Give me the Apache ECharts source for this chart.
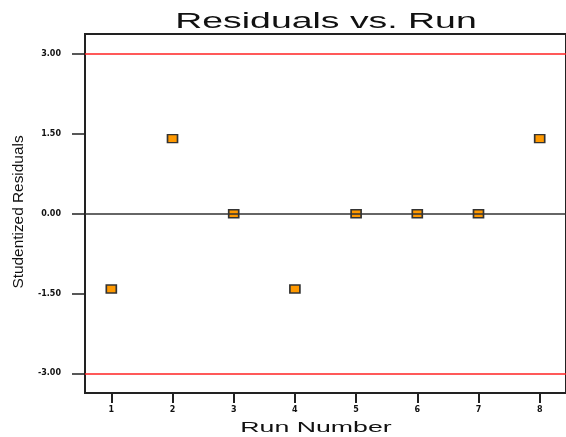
<!DOCTYPE html>
<html>
<head>
<meta charset="utf-8">
<script src="https://cdn.jsdelivr.net/npm/echarts@6/dist/echarts.min.js"></script>
<style>
  html, body { margin: 0; padding: 0; background: #fff; }
  #chart { width: 566px; height: 437px; }
</style>
</head>
<body>
<div id="chart"></div>
<script>
var runs = [1, 2, 3, 4, 5, 6, 7, 8];
var residuals = [-1.414, 1.414, 0, -1.414, 0, 0, 0, 1.414];
var yTicks = [-3, -1.5, 0, 1.5, 3];
var limits = [-3, 3];
var centerLine = 0;

var points = runs.map(function (r, i) {
  return [r, residuals[i]];
});

var chart = echarts.init(document.getElementById("chart"));
chart.setOption({
  backgroundColor: "#fff",
  animation: false,
  grid: {
    left: 85,
    top: 34,
    right: -3,
    bottom: 44,
    show: true,
    borderColor: "#222",
    borderWidth: 2
  },
  xAxis: {
    type: "value",
    min: 0.57,
    max: 8.43,
    axisLine: { show: true, onZero: false, lineStyle: { color: "#222", width: 2 } },
    axisTick: {
      show: true,
      customValues: runs,
      length: 10,
      lineStyle: { color: "#222", width: 2 }
    },
    axisLabel: {
      customValues: runs,
      margin: 13,
      fontSize: 8,
      fontWeight: "bold",
      fontFamily: "DejaVu Sans",
      color: "#111"
    },
    splitLine: { show: false }
  },
  yAxis: {
    type: "value",
    min: -3.37,
    max: 3.38,
    axisLine: { show: true, onZero: false, lineStyle: { color: "#222", width: 2 } },
    axisTick: {
      show: true,
      customValues: yTicks,
      inside: false,
      length: 13,
      lineStyle: { color: "#222", width: 1.5 }
    },
    axisLabel: {
      customValues: yTicks,
      margin: 24,
      fontSize: 8,
      fontWeight: "bold",
      fontFamily: "DejaVu Sans",
      color: "#111",
      formatter: function (v) {
        return v.toFixed(2);
      }
    },
    splitLine: { show: false }
  },
  graphic: [
    {
      type: "text",
      x: 326,
      y: 22,
      scaleX: 1.7,
      style: {
        text: "Residuals vs. Run",
        x: 0,
        y: 0,
        font: "22px 'Liberation Sans'",
        fill: "#111",
        textAlign: "center",
        textVerticalAlign: "middle"
      }
    },
    {
      type: "text",
      x: 316,
      y: 428,
      scaleX: 1.78,
      style: {
        text: "Run Number",
        x: 0,
        y: 0,
        font: "15px 'Liberation Sans'",
        fill: "#111",
        textAlign: "center",
        textVerticalAlign: "middle"
      }
    },
    {
      type: "text",
      x: 19,
      y: 212,
      rotation: Math.PI / 2,
      style: {
        text: "Studentized Residuals",
        x: 0,
        y: 0,
        font: "15.4px 'Liberation Sans'",
        fill: "#111",
        textAlign: "center",
        textVerticalAlign: "middle"
      }
    }
  ],
  series: [
    {
      type: "scatter",
      data: points,
      symbol: "rect",
      symbolSize: [10, 8],
      z: 2,
      itemStyle: {
        color: "#ff9900",
        borderColor: "#333",
        borderWidth: 1.5,
        opacity: 1
      },
      markLine: {
        silent: true,
        symbol: "none",
        label: { show: false },
        lineStyle: { color: "#ff2222", width: 1.5, type: "solid" },
        data: limits.map(function (v) {
          return { yAxis: v };
        })
      }
    },
    {
      type: "scatter",
      data: [],
      z: 5,
      markLine: {
        silent: true,
        symbol: "none",
        label: { show: false },
        lineStyle: { color: "#333", width: 1.5, type: "solid" },
        data: [{ yAxis: centerLine }]
      }
    }
  ]
});
</script>
</body>
</html>
